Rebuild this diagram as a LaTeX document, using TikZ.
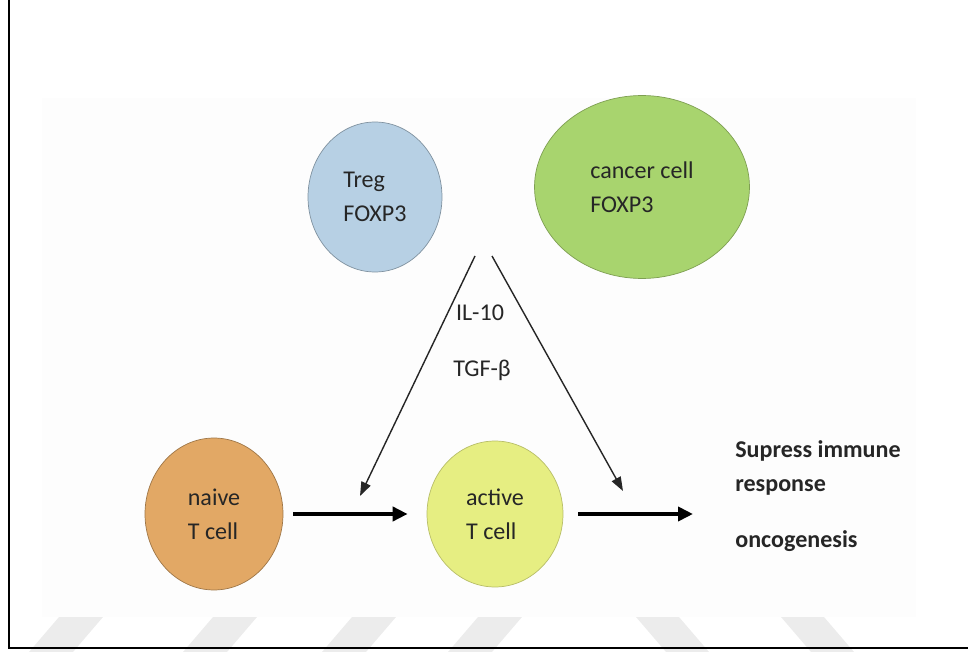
\documentclass[tikz,border=0pt]{standalone}
\usepackage{fontspec}
\setmainfont{Carlito}
\usetikzlibrary{positioning}
\usetikzlibrary{shapes}
\usetikzlibrary{arrows.meta}

\definecolor{tregblue}{HTML}{B7D0E4}
\definecolor{cancergreen}{HTML}{A8D46E}
\definecolor{naiveorange}{HTML}{E2A865}
\definecolor{activelime}{HTML}{E6EE82}
\definecolor{stripegray}{HTML}{ECECEC}

\begin{document}
\begin{tikzpicture}[x=0.02cm, y=-0.02cm,
  cell/.style={draw, ellipse, inner sep=0pt, align=left, text=black!85, font=\fontsize{13.7}{19.4}\selectfont},
  cytokine/.style={inner sep=0pt, text=black!85, font=\fontsize{13.7}{16}\selectfont},
  effect/.style={anchor=west, inner sep=0pt, align=left, text=black!85, font=\bfseries\fontsize{13.7}{19.6}\selectfont},
  thin arrow/.style={-{Triangle[length=0.28cm,width=0.2cm]}, line width=0.8pt, black!85},
  thick arrow/.style={-{Triangle[length=0.3cm,width=0.28cm]}, line width=2.2pt}]
\useasboundingbox (0,0) rectangle (968,652);
% photo area and watermark
\fill[black!0.8] (42,98) rectangle (916,617);
\foreach \x in {59,213,352,478}
  \fill[stripegray] (\x,617) -- (\x+44,617) -- (\x+14,652) -- (\x-30,652) -- cycle;
\foreach \x in {636,781}
  \fill[stripegray] (\x,617) -- (\x+43,617) -- (\x+73,652) -- (\x+30,652) -- cycle;
\draw[line width=1.4pt] (9,0) -- (9,648) -- (968,648);
% cells
\node[cell, fill=tregblue, draw=tregblue!70!black, minimum width=2.68cm, minimum height=3cm] (Treg) at (375,197) {Treg\\FOXP3};
\node[cell, fill=cancergreen, draw=cancergreen!75!black, minimum width=4.3cm, minimum height=3.66cm] (Cancer) at (642,187) {cancer cell\\FOXP3};
\node[cell, fill=naiveorange, draw=naiveorange!70!black, minimum width=2.76cm, minimum height=3.04cm] (Naive) at (214,514) {naive\\T cell};
\node[cell, fill=activelime, draw=activelime!80!black, minimum width=2.72cm, minimum height=2.92cm] (Active) at (495,514) {active\\T cell};
% cytokines
\coordinate (Src1) at (475,256);
\coordinate (Src2) at (492,256);
\coordinate (Tip1) at (360,496);
\coordinate (Tip2) at (623,491);
\draw[thin arrow] (Src1) -- (Tip1);
\draw[thin arrow] (Src2) -- (Tip2);
\node[cytokine] (IL) at (480,313) {IL-10};
\node[cytokine] (TGF) at (482,370) {TGF-β};
% outcome
\coordinate (Out) at (693,514);
\draw[thick arrow, shorten <=0.2cm, shorten >=0.38cm] (Naive.east) -- (Active.west);
\draw[thick arrow, shorten <=0.3cm] (Active.east) -- (Out);
\node[effect] (Supress) at (735,468) {Supress immune\\response};
\node[effect] (Onco) at (735,541) {oncogenesis};
\end{tikzpicture}
\end{document}
